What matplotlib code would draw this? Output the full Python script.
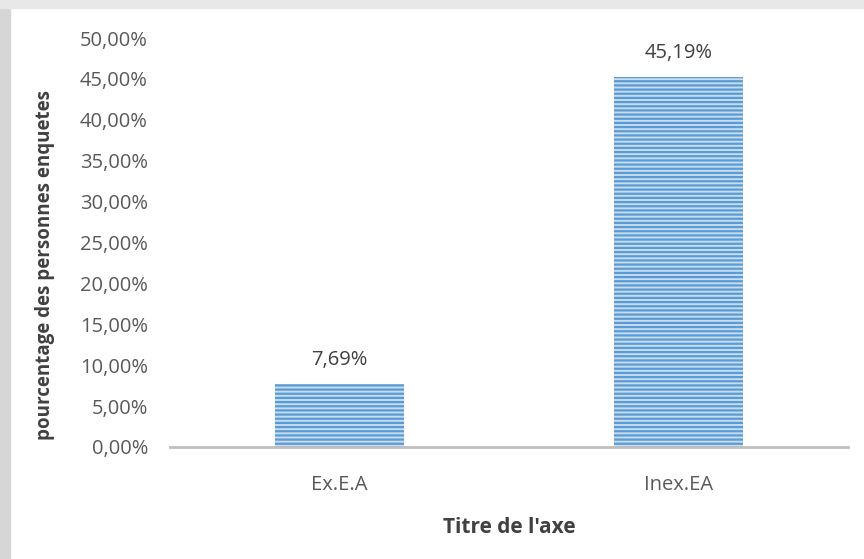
import matplotlib
matplotlib.use("Agg")
import matplotlib.pyplot as plt
from matplotlib.patches import Rectangle

# data
categories = ["Ex.E.A", "Inex.EA"]
values = [7.69, 45.19]
yticks = [0, 5, 10, 15, 20, 25, 30, 35, 40, 45, 50]

plt.rcParams['font.family'] = ['Open Sans', 'DejaVu Sans']
plt.rcParams['hatch.linewidth'] = 1.6

grey = '#595959'

fig = plt.figure(figsize=(8.64, 5.59), dpi=100)
# textured strip of the scan at the left/top edge
fig.patches.append(Rectangle((0, 0), 0.012, 1, transform=fig.transFigure,
                             color='#d6d6d6', zorder=0))
fig.patches.append(Rectangle((0, 0.985), 1, 0.015, transform=fig.transFigure,
                             color='#e8e8e8', zorder=0))

ax = fig.add_axes([0.197, 0.2004, 0.784, 0.7316])
x = range(len(categories))
bars = ax.bar(x, values, width=0.38, color='#c5dcf1', edgecolor='#5b9bd5',
              hatch='----', linewidth=0)

for b, v in zip(bars, values):
    ax.text(b.get_x() + b.get_width() / 2, v + 1.7, f"{v:.2f}%".replace('.', ','),
            ha='center', va='bottom', fontsize=14.5, color='#404040')

ax.set_xlim(-0.5, 1.5)
ax.set_ylim(0, 50)
ax.set_yticks(yticks)
ax.set_yticklabels([f"{t:.2f}%".replace('.', ',') for t in yticks])
ax.set_xticks(list(x))
ax.set_xticklabels(categories)
ax.tick_params(length=0, labelsize=14.5, labelcolor=grey)
ax.tick_params(axis='y', pad=16)
ax.tick_params(axis='x', pad=20)

for s in ['top', 'right', 'left']:
    ax.spines[s].set_visible(False)
ax.spines['bottom'].set_color('#bfbfbf')
ax.spines['bottom'].set_linewidth(2)

ax.set_xlabel("Titre de l'axe", fontsize=15, fontweight='bold', color='#404040', labelpad=16)
fig.text(45 / 864, 1 - 265 / 559, "pourcentage des personnes enquetes", rotation=90,
         ha='center', va='center', fontsize=13.5, fontweight='bold', color='#404040')

fig.savefig("out.png", dpi=100)
